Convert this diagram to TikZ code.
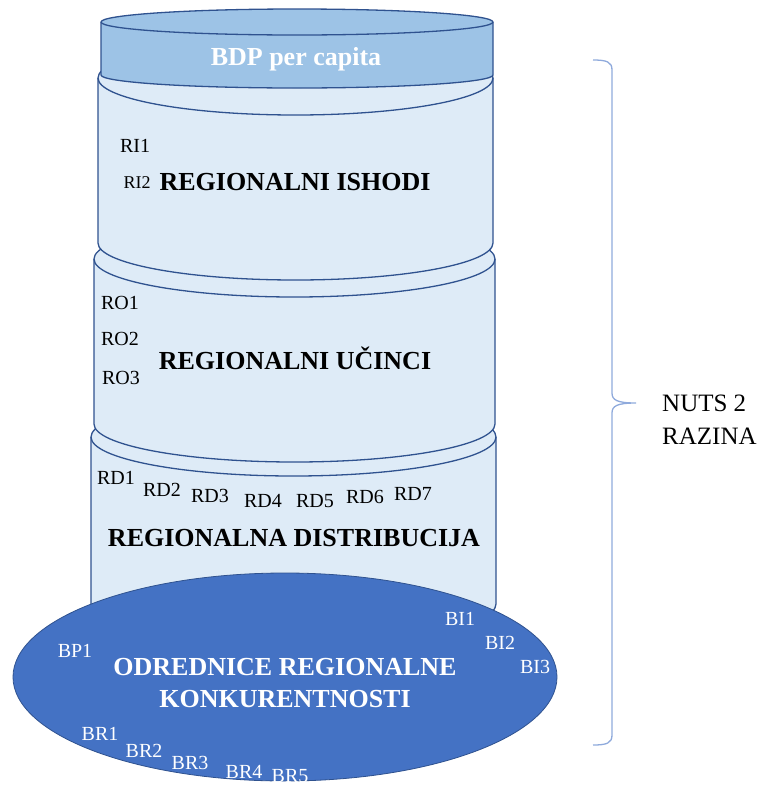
\documentclass[tikz,border=0pt]{standalone}
\usepackage{fontspec}
\setmainfont{Liberation Serif}
\definecolor{canfill}{HTML}{DEEBF7}
\definecolor{canline}{HTML}{2F528F}
\definecolor{topfill}{HTML}{9DC3E6}
\definecolor{basefill}{HTML}{4472C4}
\definecolor{bracecol}{HTML}{8FAADC}
\tikzset{
  canbody/.style={draw=canline, line width=1.3pt},
  lab/.style={font=\fontsize{20}{22}\selectfont, anchor=base, inner sep=0pt},
  wlab/.style={lab, text=white},
  big/.style={font=\fontsize{26}{30}\selectfont\bfseries, anchor=base, inner sep=0pt},
  wbig/.style={big, text=white},
  side/.style={font=\fontsize{25}{28}\selectfont, anchor=base west, inner sep=0pt},
}
\newcommand{\drawcan}[6]{%
  \pgfmathsetmacro{\canrx}{(#2-#1)/2}%
  \filldraw[canbody, fill=#6] (#1,#3) -- (#1,#4)
     arc[start angle=180, end angle=360, x radius=\canrx pt, y radius=#5pt]
     -- (#2,#3)
     arc[start angle=0, end angle=180, x radius=\canrx pt, y radius=#5pt] -- cycle;
  \draw[canbody] (#1,#3)
     arc[start angle=180, end angle=360, x radius=\canrx pt, y radius=#5pt];
}
\begin{document}
\begin{tikzpicture}[x=1pt, y=-1pt]
\useasboundingbox (0,0) rectangle (764,785);
% cans, bottom first
\drawcan{91}{496}{437}{604}{39}{canfill}
% base ellipse
\filldraw[draw=canline, line width=0.8pt, fill=basefill] (285,677) ellipse [x radius=272pt, y radius=104pt];
\drawcan{94}{495}{259}{424}{38}{canfill}
\drawcan{98}{493}{78}{243}{37}{canfill}
\drawcan{101}{493}{22}{75}{13}{topfill}

% top can
\node[wbig] (bdp) at (296,65) {BDP per capita};
% RI
\node[lab] (ri1) at (135,152) {RI1};
\node[lab, font=\fontsize{18}{20}\selectfont] (ri2) at (137,188) {RI2};
\node[big] (ri) at (295,190) {REGIONALNI ISHODI};
% RO
\node[lab] (ro1) at (120,309) {RO1};
\node[lab] (ro2) at (120,345) {RO2};
\node[lab] (ro3) at (121,384) {RO3};
\node[big] (ro) at (295,369) {REGIONALNI UČINCI};
% RD
\node[lab] (rd1) at (116,484) {RD1};
\node[lab] (rd2) at (162,496) {RD2};
\node[lab] (rd3) at (210,502) {RD3};
\node[lab] (rd4) at (263,507) {RD4};
\node[lab] (rd5) at (315,507) {RD5};
\node[lab] (rd6) at (365,503) {RD6};
\node[lab] (rd7) at (413,500) {RD7};
\node[big] (rd) at (294,546) {REGIONALNA DISTRIBUCIJA};
% base
\node[wbig] (od1) at (285,675) {ODREDNICE REGIONALNE};
\node[wbig] (od2) at (285,707) {KONKURENTNOSTI};
\node[wlab] (bp1) at (75,657) {BP1};
\node[wlab] (bi1) at (460,625) {BI1};
\node[wlab] (bi2) at (500,649) {BI2};
\node[wlab] (bi3) at (535,673) {BI3};
\node[wlab] (br1) at (100,740) {BR1};
\node[wlab] (br2) at (144,757) {BR2};
\node[wlab] (br3) at (190,769) {BR3};
\node[wlab] (br4) at (244,778) {BR4};
\node[wlab] (br5) at (290,782) {BR5};

% brace
\coordinate (bt) at (593,60);
\coordinate (bm) at (636,403);
\coordinate (bb) at (593,745);
\draw[bracecol, line width=1.3pt]
  (bt) .. controls (607,60) and (612,62) .. (612,70)
  -- (612,393) .. controls (612,400) and (617,403) .. (bm)
  .. controls (617,403) and (612,406) .. (612,413)
  -- (612,735) .. controls (612,743) and (607,745) .. (bb);
\node[side] (nuts) at (662,411) {NUTS 2};
\node[side] (raz) at (662,444) {RAZINA};
\end{tikzpicture}
\end{document}
